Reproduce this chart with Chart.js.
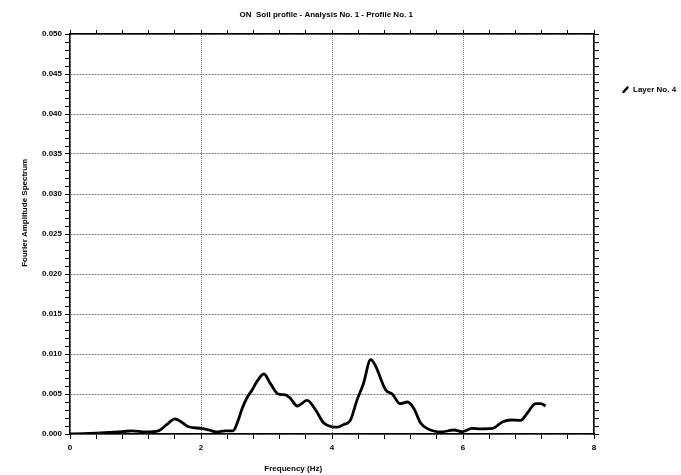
<!DOCTYPE html>
<html>
<head>
<meta charset="utf-8">
<script src="https://cdn.jsdelivr.net/npm/chart.js@4/dist/chart.umd.min.js"></script>
<style>
  html, body { margin: 0; padding: 0; background: #ffffff; }
  canvas { display: block; }
</style>
</head>
<body>
<canvas id="c" width="681" height="475"></canvas>
<script>
// ---- data ----
const chartTitle = "ON  Soil profile - Analysis No. 1 - Profile No. 1";
const xTitle = "Frequency (Hz)";
const yTitle = "Fourier Amplitude Spectrum";
const seriesLabel = "Layer No. 4";

const frequency = [
  0.0, 0.2, 0.4, 0.6, 0.8, 0.95, 1.15, 1.35, 1.48, 1.6, 1.7, 1.81, 2.0, 2.12, 2.24, 2.37,
  2.49, 2.52, 2.57, 2.62, 2.7, 2.78, 2.85, 2.96, 3.06, 3.18, 3.29, 3.36, 3.47, 3.62, 3.75, 3.87, 4.0,
  4.08, 4.18, 4.28, 4.38, 4.48, 4.59, 4.66, 4.82, 4.92, 5.04, 5.15, 5.25, 5.35, 5.45,
  5.66, 5.86, 5.99, 6.14, 6.27, 6.45, 6.6, 6.73, 6.88, 6.98, 7.11, 7.19, 7.26
];
const amplitude = [
  0.0, 0.00003, 0.0001, 0.0002, 0.0003, 0.0004, 0.00025, 0.0004, 0.0012, 0.0019, 0.0015, 0.0009, 0.0007, 0.0005, 0.00025, 0.0004,
  0.0004, 0.0007, 0.00175, 0.003, 0.0045, 0.0055, 0.0065, 0.0075, 0.0063, 0.005, 0.0049, 0.0045, 0.0035, 0.0042, 0.003, 0.0014, 0.0009,
  0.00085, 0.0012, 0.0017, 0.0042, 0.0063, 0.0093, 0.0086, 0.0055, 0.005, 0.0038, 0.004, 0.0032, 0.0014, 0.0007,
  0.00025, 0.0005, 0.0003, 0.0007, 0.00065, 0.0007, 0.0015, 0.00175, 0.0017, 0.0026, 0.0038, 0.0038, 0.0035
];

const xMin = 0, xMax = 8, xMinorStep = 0.4, xMajorStep = 2;
const yMin = 0, yMax = 0.05, yMinorStep = 0.001, yMajorStep = 0.005;

// ---- helpers ----
function isMultiple(v, step) {
  const r = v / step;
  return Math.abs(r - Math.round(r)) < 1e-6;
}

const FONT = "'Liberation Sans', Arial, sans-serif";
Chart.defaults.font.family = FONT;
Chart.defaults.font.size = 8;
Chart.defaults.font.weight = 'bold';
Chart.defaults.color = '#000';

const points = frequency.map((f, i) => ({ x: f, y: amplitude[i] }));

const whiteBg = {
  id: 'whiteBg',
  beforeDraw(chart) {
    const ctx = chart.ctx;
    ctx.save();
    ctx.fillStyle = '#ffffff';
    ctx.fillRect(0, 0, chart.width, chart.height);
    ctx.restore();
  }
};

const texts = {
  id: 'texts',
  afterDraw(chart) {
    const ctx = chart.ctx;
    const a = chart.chartArea;
    ctx.save();
    ctx.fillStyle = '#000';
    ctx.font = 'bold 8px ' + FONT;
    ctx.textBaseline = 'middle';
    ctx.textAlign = 'center';
    // chart title
    ctx.fillText(chartTitle, a.left + (a.right - a.left) * 0.489, 15);
    // x axis title
    ctx.fillText(xTitle, a.left + (a.right - a.left) * 0.426, 469);
    // y axis title
    ctx.save();
    ctx.translate(25, a.top + (a.bottom - a.top) * 0.447);
    ctx.rotate(-Math.PI / 2);
    ctx.fillText(yTitle, 0, 0);
    ctx.restore();
    // legend
    const ds = chart.data.datasets[0];
    ctx.strokeStyle = ds.borderColor;
    ctx.lineWidth = 2.5;
    ctx.lineCap = 'round';
    ctx.beginPath();
    ctx.moveTo(623.5, 92);
    ctx.lineTo(627.5, 87.5);
    ctx.stroke();
    ctx.textAlign = 'left';
    ctx.fillText(ds.label, 633, 89.5);
    ctx.restore();
  }
};

const gridColor = (step) => (c) => (c.tick && isMultiple(c.tick.value, step)) ? '#7a7a7a' : 'rgba(0,0,0,0)';

new Chart(document.getElementById('c'), {
  type: 'line',
  data: {
    datasets: [{
      label: seriesLabel,
      data: points,
      borderColor: '#000',
      borderWidth: 2.8,
      pointRadius: 0,
      fill: false,
      tension: 0.4,
      cubicInterpolationMode: 'monotone'
    }]
  },
  options: {
    responsive: false,
    animation: false,
    devicePixelRatio: 1,
    layout: { padding: 0 },
    plugins: {
      legend: { display: false },
      title: { display: false },
      tooltip: { enabled: false }
    },
    scales: {
      x: {
        type: 'linear',
        position: 'bottom',
        min: xMin, max: xMax,
        afterFit(s) { s.height = 41; },
        ticks: {
          stepSize: xMinorStep,
          autoSkip: false,
          maxRotation: 0,
          padding: 4,
          callback: (v) => isMultiple(v, xMajorStep) ? String(Math.round(v)) : ''
        },
        grid: {
          color: gridColor(xMajorStep),
          lineWidth: 1,
          tickColor: '#000',
          tickLength: 5,
          tickWidth: 1
        },
        border: { display: true, color: '#000', width: 1.5, dash: [1, 1] }
      },
      x2: {
        type: 'linear',
        position: 'top',
        min: xMin, max: xMax,
        afterFit(s) { s.height = 34; },
        ticks: {
          stepSize: xMinorStep,
          autoSkip: false,
          maxRotation: 0,
          callback: () => ''
        },
        grid: {
          drawOnChartArea: false,
          tickColor: '#000',
          tickLength: 4,
          tickWidth: 1
        },
        border: { display: true, color: '#000', width: 1.5 }
      },
      y: {
        type: 'linear',
        position: 'left',
        min: yMin, max: yMax,
        afterFit(s) { s.width = 70; },
        ticks: {
          stepSize: yMinorStep,
          autoSkip: false,
          padding: 3,
          callback: (v) => isMultiple(v, yMajorStep) ? v.toFixed(3) : ''
        },
        grid: {
          color: gridColor(yMajorStep),
          lineWidth: 1,
          tickColor: '#000',
          tickLength: 5,
          tickWidth: 1
        },
        border: { display: true, color: '#000', width: 1.5, dash: [2, 1] }
      },
      y2: {
        type: 'linear',
        position: 'right',
        min: yMin, max: yMax,
        afterFit(s) { s.width = 87; },
        ticks: {
          stepSize: yMinorStep,
          autoSkip: false,
          callback: () => ''
        },
        grid: {
          drawOnChartArea: false,
          tickColor: '#000',
          tickLength: 5,
          tickWidth: 1
        },
        border: { display: true, color: '#000', width: 1.5 }
      }
    }
  },
  plugins: [whiteBg, texts]
});
</script>
</body>
</html>
